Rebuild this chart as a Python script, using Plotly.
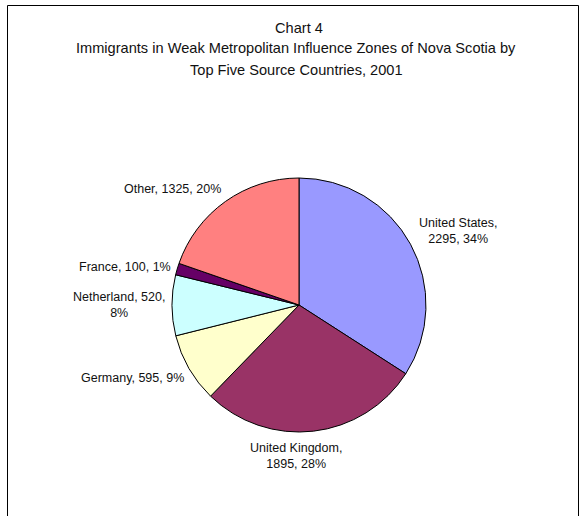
import plotly.graph_objects as go

# Source countries and immigrant counts, 2001
countries = ["United States", "United Kingdom", "Germany", "Netherland", "France", "Other"]
immigrants = [2295, 1895, 595, 520, 100, 1325]
slice_colors = ["#9999FF", "#993366", "#FFFFCC", "#CCFFFF", "#660066", "#FF8080"]

title_lines = [
    "Chart 4",
    "Immigrants in Weak Metropolitan Influence Zones of Nova Scotia by",
    "Top Five Source Countries, 2001",
]

W, H = 586, 516
FONT = "Liberation Sans, Arial, sans-serif"

# Label centres in pixels and where each label wraps onto a second line
label_xy = [(458, 231), (296, 456), (132, 378), (119, 305), (125, 267), (172, 189)]
label_wrap = ["name", "name", None, "value", None, None]

# Title line centres in pixels
title_xy = [(299, 28.5), (296, 48.5), (296, 69.5)]

total = sum(immigrants)
pcts = [round(v * 100 / total) for v in immigrants]


def px(x):
    return x / W


def py(y):
    return 1 - y / H


# Pie centre (299, 305), radius 127 px
cx, cy, r = 299, 305, 127

fig = go.Figure(
    go.Pie(
        labels=countries,
        values=immigrants,
        sort=False,
        direction="clockwise",
        rotation=0,
        marker=dict(colors=slice_colors, line=dict(color="black", width=1)),
        textinfo="none",
        hoverinfo="label+value+percent",
        showlegend=False,
        domain=dict(x=[px(cx - r), px(cx + r)], y=[py(cy + r), py(cy - r)]),
    )
)

annotations = []
for (lx, ly), name, val, pct, wrap in zip(label_xy, countries, immigrants, pcts, label_wrap):
    if wrap == "name":
        txt = f"{name},<br>{val}, {pct}%"
    elif wrap == "value":
        txt = f"{name}, {val},<br>{pct}%"
    else:
        txt = f"{name}, {val}, {pct}%"
    annotations.append(dict(
        x=px(lx), y=py(ly), xref="paper", yref="paper", text=txt,
        showarrow=False, xanchor="center", yanchor="middle", align="center",
        font=dict(family=FONT, size=12.5, color="#111111"),
    ))

for line, (tx, ty) in zip(title_lines, title_xy):
    annotations.append(dict(
        x=px(tx), y=py(ty), xref="paper", yref="paper", text=line,
        showarrow=False, xanchor="center", yanchor="middle",
        font=dict(family=FONT, size=14.6, color="#111111"),
    ))

# Chart frame: left, top and right edges
frame = [
    dict(x0=px(7.5), x1=px(7.5), y0=py(5.5), y1=-0.05),
    dict(x0=px(7.5), x1=px(578.5), y0=py(5.5), y1=py(5.5)),
    dict(x0=px(578.5), x1=px(578.5), y0=py(5.5), y1=-0.05),
]
shapes = [dict(type="line", xref="paper", yref="paper", line=dict(color="black", width=1), **f)
          for f in frame]

fig.update_layout(
    width=W, height=H,
    margin=dict(l=0, r=0, t=0, b=0),
    paper_bgcolor="white", plot_bgcolor="white",
    annotations=annotations,
    shapes=shapes,
)

fig.write_html("out.html")
